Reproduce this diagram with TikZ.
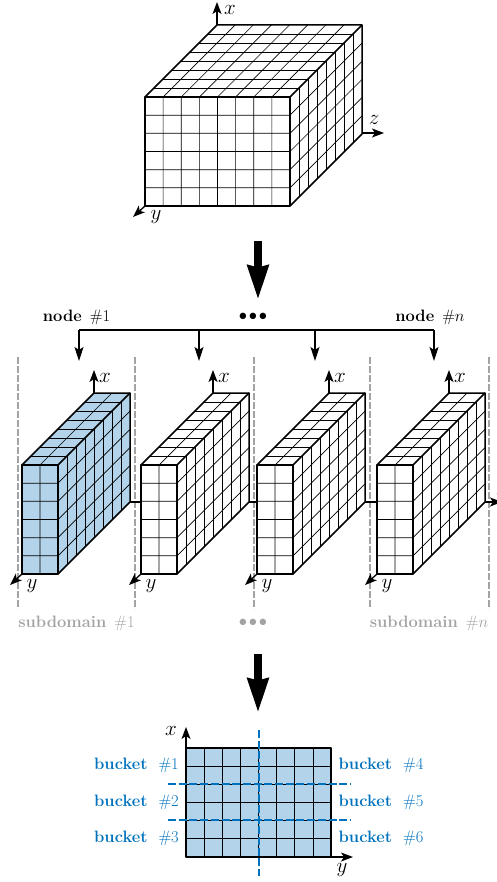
\documentclass[tikz,border=0pt]{standalone}
\usepackage{fix-cm}
\usetikzlibrary{arrows.meta,calc}
\definecolor{bluefill}{HTML}{B2D3E9}
\definecolor{blueline}{HTML}{0072BD}
\definecolor{graytext}{HTML}{A3A3A3}
\tikzset{
  outer/.style={line width=1.5pt,line join=round},
  inner/.style={line width=0.7pt},
  axisarrow/.style={line width=1.3pt,-{Stealth[length=12pt,width=9pt,inset=3pt]}},
  busline/.style={line width=1.2pt},
  busarrow/.style={line width=1.2pt,-{Stealth[length=14pt,width=9pt,inset=3pt]}},
  bigarrow/.style={line width=8pt,-{Stealth[length=34pt,width=20pt,inset=1.5pt]}},
  graydash/.style={line width=1.3pt,graytext,dash pattern=on 7pt off 2pt},
  bluedash/.style={line width=2pt,blueline,dash pattern=on 8pt off 2.7pt},
  axislabel/.style={inner sep=0pt,font=\fontsize{21}{21}\selectfont},
  nodelabel/.style={inner sep=0pt,font=\fontsize{16.5}{18}\selectfont},
  sublabel/.style={inner sep=0pt,text=graytext,font=\fontsize{16.5}{18}\selectfont},
  bucketlabel/.style={inner sep=0pt,text=blueline,font=\fontsize{16.5}{18}\selectfont},
}
% #1 x0, #2 y0 (top-left of front), #3 width, #4 height, #5 cols, #6 rows, #7 depth, #8 fill
\newcommand{\gridbox}[8]{%
  \fill[#8] (#1,#2) -- ++(#3,0) -- ++(0,#4) -- ++(-#3,0) -- cycle;
  \fill[#8] (#1,#2) -- ++(#7,-#7) -- ++(#3,0) -- ++(0,#4) -- ++(-#7,#7) -- ++(0,-#4) -- ++(-#3,0) -- cycle;
  \foreach \i in {1,...,\numexpr#5-1\relax}
    \draw[inner] ({#1+\i*#3/#5},#2) -- ++(0,#4) ({#1+\i*#3/#5},#2) -- ++(#7,-#7);
  \foreach \j in {1,...,\numexpr#6-1\relax}
    \draw[inner] (#1,{#2+\j*#4/#6}) -- ++(#3,0) -- ++(#7,-#7);
  \foreach \k in {1,...,7}
    \draw[inner] ({#1+\k*#7/8},{#2-\k*#7/8}) -- ++(#3,0) -- ++(0,#4);
  \draw[outer] (#1,#2) rectangle ++(#3,#4);
  \draw[outer] (#1,#2) -- ++(#7,-#7) -- ++(#3,0) -- ++(0,#4) -- ++(-#7,#7);
  \draw[outer] ({#1+#3},#2) -- ++(#7,-#7);
}
% #1 id, #2 x0, #3 fill
\newcommand{\slabbox}[3]{%
  \gridbox{#2}{465}{36}{109}{2}{6}{72}{#3}
  \coordinate (sx#1) at ({#2+72},393);
  \coordinate (sxt#1) at ({#2+72},370);
  \coordinate (sy#1) at (#2,574);
  \coordinate (syt#1) at ({#2-12},585);
  \coordinate (sr#1) at ({#2+108},502);
  \draw[axisarrow] (sx#1) -- (sxt#1);
  \draw[axisarrow] (sy#1) -- (syt#1);
  \node[axislabel] (lx#1) at ({#2+83},377.5) {$x$};
  \node[axislabel] (ly#1) at ({#2+10},586) {$y$};
}
\newcommand{\threedots}{$\bullet\hspace{-1.8pt}\bullet\hspace{-1.8pt}\bullet$}
\newcommand{\widegap}[1]{\hspace{#1}}
\begin{document}
\begin{tikzpicture}[x=1pt,y=-1pt]
\useasboundingbox (0,0) rectangle (496,882);
% ---- cube
\gridbox{145}{97}{145}{109}{8}{6}{72}{white}
\coordinate (cx) at (217,25);
\coordinate (cxt) at (217,2);
\coordinate (cz) at (362,133);
\coordinate (czt) at (384,133);
\coordinate (cy) at (145,206);
\coordinate (cyt) at (133,217);
\draw[axisarrow] (cx) -- (cxt);
\draw[axisarrow] (cz) -- (czt);
\draw[axisarrow] (cy) -- (cyt);
\node[axislabel] (clx) at (230,10) {$x$};
\node[axislabel] (clz) at (374,120) {$z$};
\node[axislabel] (cly) at (156,217) {$y$};
% ---- big arrows
\coordinate (ba1) at (258,241);
\coordinate (ba2) at (258,300);
\coordinate (bb1) at (258,654);
\coordinate (bb2) at (258,713);
\draw[bigarrow] (ba1) -- (ba2);
\draw[bigarrow] (bb1) -- (bb2);
% ---- bus
\node[nodelabel] (n1) at (76.5,317) {\textbf{node} \widegap{3pt}\#1};
\node[nodelabel] (ndots) at (253,317) {\threedots};
\node[nodelabel] (nn) at (430,317) {\textbf{node} \widegap{3pt}\#$n$};
\coordinate (b1) at (79,330);
\coordinate (b2) at (199,330);
\coordinate (b3) at (315,330);
\coordinate (b4) at (434,330);
\coordinate (t1) at (79,361);
\coordinate (t2) at (199,361);
\coordinate (t3) at (315,361);
\coordinate (t4) at (434,361);
\draw[busline] (b1) -- (b4);
\foreach \n in {1,2,3,4} \draw[busarrow] (b\n) -- (t\n);
% ---- gray dashes
\foreach \n/\xx in {a/18,b/135,c/254,d/370,e/489}{
  \coordinate (g\n) at (\xx,357);
  \coordinate (h\n) at (\xx,609);
  \draw[graydash] (g\n) -- (h\n);
}
% ---- slabs
\slabbox{1}{22}{bluefill}
\slabbox{2}{141}{white}
\slabbox{3}{257}{white}
\slabbox{4}{377}{white}
\coordinate (f2) at (141,502);
\coordinate (f3) at (257,502);
\coordinate (f4) at (377,502);
\coordinate (fz) at (502,502);
\draw[busline] (sr1) -- (f2);
\draw[busline] (sr2) -- (f3);
\draw[busline] (sr3) -- (f4);
\draw[axisarrow] (sr4) -- (fz);
\node[axislabel] (lz4) at (501,490) {$z$};
\node[sublabel] (s1) at (76.5,623) {\textbf{subdomain} \widegap{3pt}\#1};
\node[sublabel] (sdots) at (253,623) {\threedots};
\node[sublabel] (sn) at (429,623) {\textbf{subdomain} \widegap{3pt}\#$n$};
% ---- buckets
\fill[bluefill] (186,748) rectangle (331,857);
\foreach \i in {1,...,7} \draw[inner] ({186+\i*145/8},748) -- ++(0,109);
\foreach \j in {1,...,5} \draw[inner] (186,{748+\j*109/6}) -- ++(145,0);
\draw[outer] (186,748) rectangle (331,857);
\coordinate (ax) at (186,748);
\coordinate (axt) at (186,727);
\coordinate (ay) at (331,857);
\coordinate (ayt) at (353,857);
\draw[axisarrow] (ax) -- (axt);
\draw[axisarrow] (ay) -- (ayt);
\node[axislabel] (blx) at (171,731) {$x$};
\node[axislabel] (bly) at (342,870) {$y$};
\coordinate (v1) at (258.5,730);
\coordinate (v2) at (258.5,876);
\coordinate (h1a) at (168,784);
\coordinate (h1b) at (350,784);
\coordinate (h2a) at (168,820);
\coordinate (h2b) at (350,820);
\draw[bluedash] (v1) -- (v2);
\draw[bluedash] (h1a) -- (h1b);
\draw[bluedash] (h2a) -- (h2b);
\node[bucketlabel] (k1) at (136.5,765) {\textbf{bucket} \widegap{6pt}\#1};
\node[bucketlabel] (k2) at (136.5,802) {\textbf{bucket} \widegap{6pt}\#2};
\node[bucketlabel] (k3) at (136.5,838) {\textbf{bucket} \widegap{6pt}\#3};
\node[bucketlabel] (k4) at (381,765) {\textbf{bucket} \widegap{6pt}\#4};
\node[bucketlabel] (k5) at (381,802) {\textbf{bucket} \widegap{6pt}\#5};
\node[bucketlabel] (k6) at (381,838) {\textbf{bucket} \widegap{6pt}\#6};
\end{tikzpicture}
\end{document}
